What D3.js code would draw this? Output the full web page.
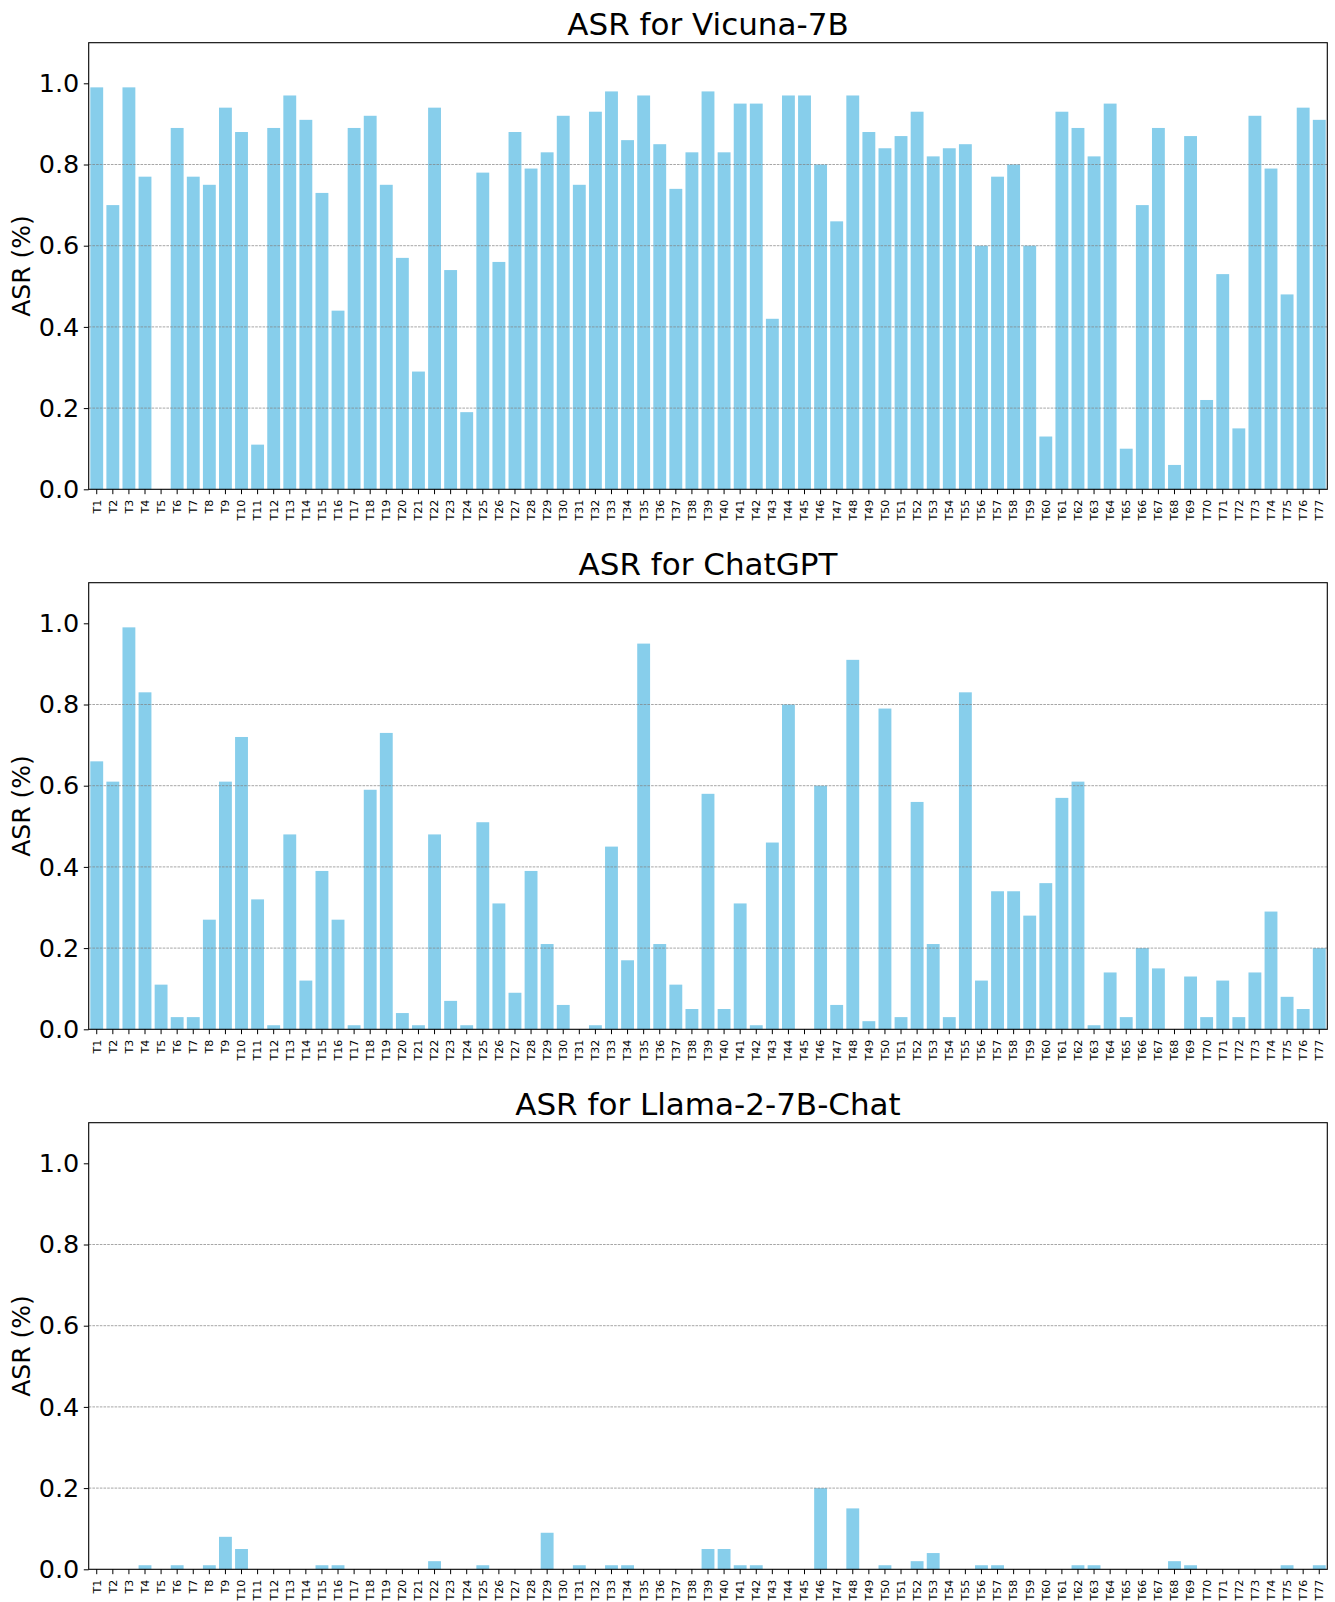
<!DOCTYPE html>
<html>
<head>
<meta charset="utf-8">
<script src="https://cdn.jsdelivr.net/npm/d3@7"></script>
<style>
  html, body { margin: 0; padding: 0; background: #fff; }
  svg { display: block; font-family: "DejaVu Sans", sans-serif; }
</style>
</head>
<body>
<svg id="chart" width="1335" height="1602"></svg>
<script>
const categories = ["T1","T2","T3","T4","T5","T6","T7","T8","T9","T10","T11","T12","T13","T14","T15","T16","T17","T18","T19","T20","T21","T22","T23","T24","T25","T26","T27","T28","T29","T30","T31","T32","T33","T34","T35","T36","T37","T38","T39","T40","T41","T42","T43","T44","T45","T46","T47","T48","T49","T50","T51","T52","T53","T54","T55","T56","T57","T58","T59","T60","T61","T62","T63","T64","T65","T66","T67","T68","T69","T70","T71","T72","T73","T74","T75","T76","T77"];

const vicunaValues = [0.99,0.70,0.99,0.77,0.00,0.89,0.77,0.75,0.94,0.88,0.11,0.89,0.97,0.91,0.73,0.44,0.89,0.92,0.75,0.57,0.29,0.94,0.54,0.19,0.78,0.56,0.88,0.79,0.83,0.92,0.75,0.93,0.98,0.86,0.97,0.85,0.74,0.83,0.98,0.83,0.95,0.95,0.42,0.97,0.97,0.80,0.66,0.97,0.88,0.84,0.87,0.93,0.82,0.84,0.85,0.60,0.77,0.80,0.60,0.13,0.93,0.89,0.82,0.95,0.10,0.70,0.89,0.06,0.87,0.22,0.53,0.15,0.92,0.79,0.48,0.94,0.91];

const chatgptValues = [0.66,0.61,0.99,0.83,0.11,0.03,0.03,0.27,0.61,0.72,0.32,0.01,0.48,0.12,0.39,0.27,0.01,0.59,0.73,0.04,0.01,0.48,0.07,0.01,0.51,0.31,0.09,0.39,0.21,0.06,0.00,0.01,0.45,0.17,0.95,0.21,0.11,0.05,0.58,0.05,0.31,0.01,0.46,0.80,0.00,0.60,0.06,0.91,0.02,0.79,0.03,0.56,0.21,0.03,0.83,0.12,0.34,0.34,0.28,0.36,0.57,0.61,0.01,0.14,0.03,0.20,0.15,0.00,0.13,0.03,0.12,0.03,0.14,0.29,0.08,0.05,0.20];

const llamaValues = [0,0,0,0.01,0,0.01,0,0.01,0.08,0.05,0,0,0,0,0.01,0.01,0,0,0,0,0,0.02,0,0,0.01,0,0,0,0.09,0,0.01,0,0.01,0.01,0,0,0,0,0.05,0.05,0.01,0.01,0,0,0,0.20,0,0.15,0,0.01,0,0.02,0.04,0,0,0.01,0.01,0,0,0,0,0.01,0.01,0,0,0,0,0.02,0.01,0,0,0,0,0,0.01,0,0.01];

const titles = ["ASR for Vicuna-7B", "ASR for ChatGPT", "ASR for Llama-2-7B-Chat"];
const yTicks = [0.0, 0.2, 0.4, 0.6, 0.8, 1.0];
const gridTicks = [0.2, 0.4, 0.6, 0.8];
const yLabel = "ASR (%)";

const panels = [vicunaValues, chatgptValues, llamaValues];

const svg = d3.select("#chart");
const left = 88.7, right = 1327.3;
const panelTop = 42.7, panelBottom = 489.3, panelStep = 540;
const barColor = "#87CEEB";

const x = d3.scaleBand().domain(categories).range([left, right]).paddingInner(0.2).paddingOuter(0.1);

panels.forEach((vals, p) => {
  const off = p * panelStep;
  const top = panelTop + off, bottom = panelBottom + off;
  const y = d3.scaleLinear().domain([0, 1.1]).range([bottom, top]);
  const g = svg.append("g");

  // bars
  g.selectAll("rect.bar").data(vals).join("rect")
    .attr("class", "bar")
    .attr("x", (d, i) => x(categories[i]))
    .attr("width", x.bandwidth())
    .attr("y", d => y(d))
    .attr("height", d => y(0) - y(d))
    .attr("fill", barColor);

  // grid
  g.selectAll("line.grid").data(gridTicks).join("line")
    .attr("class", "grid")
    .attr("x1", left).attr("x2", right)
    .attr("y1", d => y(d)).attr("y2", d => y(d))
    .attr("stroke", "#808080")
    .attr("stroke-width", 0.7)
    .attr("stroke-dasharray", "2.6,1.1");

  // y axis
  const yAxis = d3.axisLeft(y).tickValues(yTicks).tickFormat(d3.format(".1f")).tickSize(4.9).tickPadding(4.5);
  const ya = g.append("g").attr("transform", `translate(${left},0)`).call(yAxis);
  ya.select(".domain").remove();
  ya.selectAll(".tick line").attr("stroke", "#000").attr("stroke-width", 1);
  ya.selectAll(".tick text").attr("font-size", 25.5).attr("fill", "#000")
    .attr("font-family", "DejaVu Sans, sans-serif");

  // x axis
  const xAxis = d3.axisBottom(x).tickSize(4.9).tickPadding(0);
  const xa = g.append("g").attr("transform", `translate(0,${bottom})`).call(xAxis);
  xa.select(".domain").remove();
  xa.selectAll(".tick line").attr("stroke", "#000").attr("stroke-width", 1);
  xa.selectAll(".tick text")
    .attr("font-size", 11)
    .attr("font-family", "DejaVu Sans, sans-serif")
    .attr("fill", "#000")
    .attr("text-anchor", "end")
    .attr("transform", "rotate(-90)")
    .attr("x", -10.5)
    .attr("y", 0)
    .attr("dy", "0.35em");

  // spines
  g.append("rect")
    .attr("x", left).attr("y", top)
    .attr("width", right - left).attr("height", bottom - top)
    .attr("fill", "none").attr("stroke", "#000").attr("stroke-width", 1.1);

  // title
  g.append("text")
    .attr("x", (left + right) / 2)
    .attr("y", top - 8)
    .attr("text-anchor", "middle")
    .attr("font-size", 31)
    .attr("fill", "#000")
    .text(titles[p]);

  // y label
  g.append("text")
    .attr("transform", `translate(30,${(top + bottom) / 2}) rotate(-90)`)
    .attr("text-anchor", "middle")
    .attr("font-size", 25)
    .attr("fill", "#000")
    .text(yLabel);
});
</script>
</body>
</html>
